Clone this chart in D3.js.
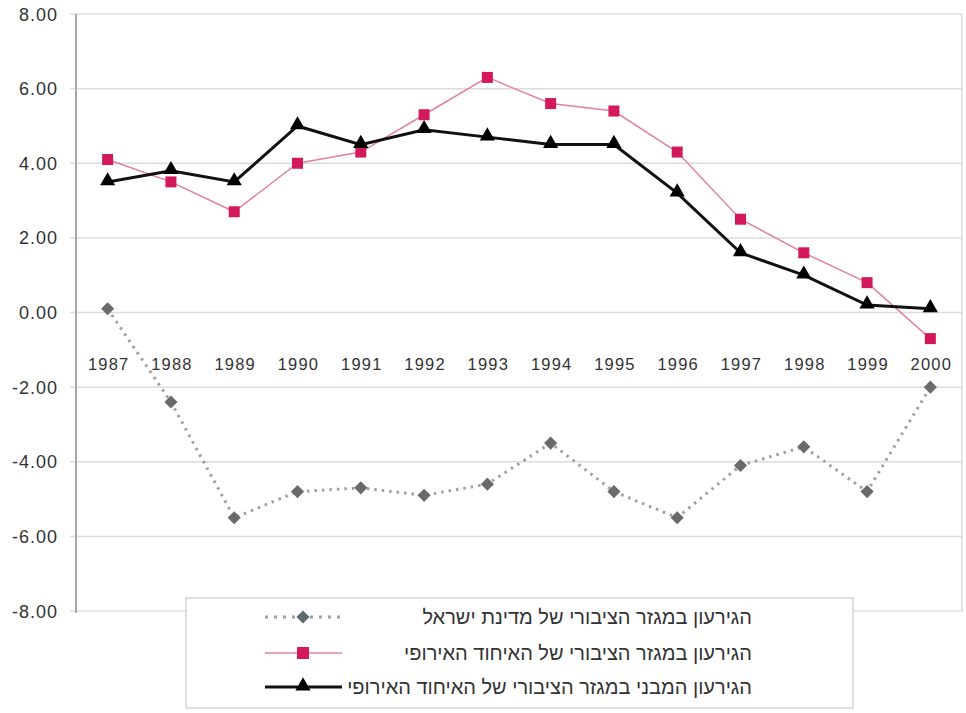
<!DOCTYPE html>
<html>
<head>
<meta charset="utf-8">
<title>Deficit</title>
<script src="https://cdn.jsdelivr.net/npm/d3@7"></script>
<style>
  body { margin: 0; background: #fff; }
  svg { font-family: "Liberation Sans", Arial, sans-serif; }
  .grid line { stroke: #dcdcdc; stroke-width: 1.5px; }
  .ylab { fill: #333; font-size: 18px; letter-spacing: 1px; }
  .xlab { fill: #333; font-size: 16.5px; letter-spacing: 1.2px; }
  .leg text { fill: #333; font-size: 20px; }
</style>
</head>
<body>
<script>
// data
var years = [1987, 1988, 1989, 1990, 1991, 1992, 1993, 1994, 1995, 1996, 1997, 1998, 1999, 2000];
var israel = [0.1, -2.4, -5.5, -4.8, -4.7, -4.9, -4.6, -3.5, -4.8, -5.5, -4.1, -3.6, -4.8, -2.0];
var eu = [4.1, 3.5, 2.7, 4.0, 4.3, 5.3, 6.3, 5.6, 5.4, 4.3, 2.5, 1.6, 0.8, -0.7];
var euStructural = [3.5, 3.8, 3.5, 5.0, 4.5, 4.9, 4.7, 4.5, 4.5, 3.2, 1.6, 1.0, 0.2, 0.1];
var yTicks = [8, 6, 4, 2, 0, -2, -4, -6, -8];
var legendLabels = [
  "הגירעון במגזר הציבורי של מדינת ישראל",
  "הגירעון במגזר הציבורי של האיחוד האירופי",
  "הגירעון המבני במגזר הציבורי של האיחוד האירופי"
];

var width = 966, height = 713;
var plotL = 76, plotR = 962, plotT = 14, plotB = 611;

var svg = d3.select('body').append('svg')
  .attr('width', width)
  .attr('height', height);

var x = d3.scalePoint().domain(years).range([plotL, plotR]).padding(0.5);
var y = d3.scaleLinear().domain([-8, 8]).range([plotB, plotT]);

// grid
var grid = svg.append('g').attr('class', 'grid');
grid.selectAll('line').data(yTicks).enter().append('line')
  .attr('x1', plotL - 6).attr('x2', plotR)
  .attr('y1', d => y(d)).attr('y2', d => y(d));
grid.append('line')
  .attr('x1', plotR).attr('x2', plotR)
  .attr('y1', plotT).attr('y2', plotB);

// y axis line
svg.append('line')
  .attr('x1', plotL).attr('x2', plotL)
  .attr('y1', plotT).attr('y2', plotB + 2)
  .attr('stroke', '#a8a8a8').attr('stroke-width', 2);

svg.selectAll('.ylab').data(yTicks).enter().append('text')
  .attr('class', 'ylab')
  .attr('x', 58)
  .attr('y', d => y(d) + 6.5)
  .attr('text-anchor', 'end')
  .text(d => d.toFixed(2));

svg.selectAll('.xlab').data(years).enter().append('text')
  .attr('class', 'xlab')
  .attr('x', d => x(d) + 1)
  .attr('y', 370)
  .attr('text-anchor', 'middle')
  .text(d => d);

var line = d3.line().x((d, i) => x(years[i])).y(d => y(d));

// israel - dotted gray with diamonds
svg.append('path').datum(israel)
  .attr('d', line)
  .attr('fill', 'none')
  .attr('stroke', '#a0a0a0')
  .attr('stroke-width', 3)
  .attr('stroke-dasharray', '2.5,5');
svg.selectAll('.dia').data(israel).enter().append('path')
  .attr('class', 'dia')
  .attr('d', d3.symbol().type(d3.symbolDiamond2).size(110))
  .attr('transform', (d, i) => 'translate(' + x(years[i]) + ',' + y(d) + ')')
  .attr('fill', '#6a6a6a');

// EU - thin pink with squares
svg.append('path').datum(eu)
  .attr('d', line)
  .attr('fill', 'none')
  .attr('stroke', '#e0829f')
  .attr('stroke-width', 1.5);
svg.selectAll('.sq').data(eu).enter().append('rect')
  .attr('class', 'sq')
  .attr('x', (d, i) => x(years[i]) - 5.5)
  .attr('y', d => y(d) - 5.5)
  .attr('width', 11).attr('height', 11)
  .attr('fill', '#d3195c');

// EU structural - black with triangles
svg.append('path').datum(euStructural)
  .attr('d', line)
  .attr('fill', 'none')
  .attr('stroke', '#111')
  .attr('stroke-width', 3);
svg.selectAll('.tri').data(euStructural).enter().append('path')
  .attr('class', 'tri')
  .attr('d', d3.symbol().type(d3.symbolTriangle).size(100))
  .attr('transform', (d, i) => 'translate(' + x(years[i]) + ',' + (y(d) - 1) + ')')
  .attr('fill', '#000');

// legend
var leg = svg.append('g').attr('class', 'leg');
leg.append('rect')
  .attr('x', 186).attr('y', 598)
  .attr('width', 667).attr('height', 110)
  .attr('fill', '#fff')
  .attr('stroke', '#d4d4d4').attr('stroke-width', 1.5);

var rowY = [617, 653, 687];
var sx1 = 265, sx2 = 342, sm = 303;

leg.append('line')
  .attr('x1', sx1).attr('x2', sx2).attr('y1', rowY[0]).attr('y2', rowY[0])
  .attr('stroke', '#9aa0a6').attr('stroke-width', 3).attr('stroke-dasharray', '3,6');
leg.append('path')
  .attr('d', d3.symbol().type(d3.symbolDiamond2).size(110))
  .attr('transform', 'translate(' + sm + ',' + rowY[0] + ')')
  .attr('fill', '#5e6a70');

leg.append('line')
  .attr('x1', sx1).attr('x2', sx2).attr('y1', rowY[1]).attr('y2', rowY[1])
  .attr('stroke', '#e0a6b8').attr('stroke-width', 2);
leg.append('rect')
  .attr('x', sm - 6).attr('y', rowY[1] - 6)
  .attr('width', 12).attr('height', 12)
  .attr('fill', '#d3195c');

leg.append('line')
  .attr('x1', sx1).attr('x2', sx2).attr('y1', rowY[2]).attr('y2', rowY[2])
  .attr('stroke', '#111').attr('stroke-width', 3);
leg.append('path')
  .attr('d', d3.symbol().type(d3.symbolTriangle).size(100))
  .attr('transform', 'translate(' + sm + ',' + (rowY[2] - 1) + ')')
  .attr('fill', '#000');

leg.selectAll('text').data(legendLabels).enter().append('text')
  .attr('x', 752)
  .attr('y', (d, i) => rowY[i] + 7)
  .attr('text-anchor', 'end')
  .text(d => d);
</script>
</body>
</html>
